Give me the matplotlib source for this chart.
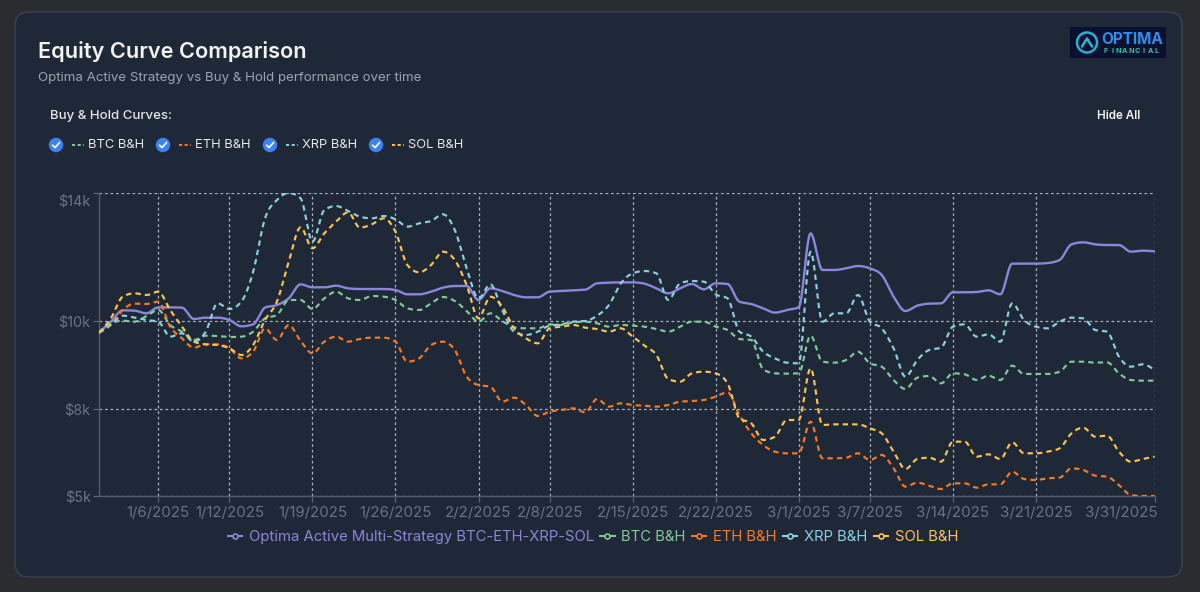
import numpy as np
import pandas as pd
import matplotlib
matplotlib.use("Agg")
import matplotlib.pyplot as plt
import matplotlib.transforms as mtransforms
from matplotlib.patches import FancyBboxPatch, Circle, Rectangle
from matplotlib.lines import Line2D

plt.rcParams['font.family'] = ['Inter', 'DejaVu Sans']

# ---------------- data ----------------
start_date = "2025-01-01"
end_date = "2025-03-31"
tick_dates = ["2025-01-06", "2025-01-12", "2025-01-19", "2025-01-26", "2025-02-02",
              "2025-02-08", "2025-02-15", "2025-02-22", "2025-03-01", "2025-03-07",
              "2025-03-14", "2025-03-21", "2025-03-31"]
y_tick_values = [5100, 7710, 10350, 14190]

optima = [10000, 10330, 10670, 10660, 10580, 10760, 10760, 10750, 10410, 10450,
          10450, 10380, 10190, 10250, 10750, 10830, 11030, 11450, 11360, 11360,
          11410, 11330, 11310, 11310, 11310, 11280, 11150, 11150, 11230, 11350,
          11400, 11400, 10980, 11330, 11250, 11130, 11060, 11060, 11230, 11250,
          11270, 11290, 11480, 11500, 11510, 11510, 11470, 11330, 11180, 11330,
          11460, 11300, 11480, 11460, 10930, 10860, 10730, 10600, 10680, 10760,
          12980, 11880, 11880, 11930, 12000, 11930, 11730, 11080, 10650, 10810,
          10870, 10880, 11210, 11210, 11220, 11270, 11150, 12070, 12070, 12070,
          12090, 12180, 12650, 12710, 12650, 12630, 12630, 12430, 12460, 12440]

btc = [10000, 10280, 10360, 10330, 10500, 10680, 10230, 10030, 9780, 9910,
       9900, 9870, 9880, 10030, 10430, 10530, 10980, 10980, 10710, 11030,
       11230, 11030, 10980, 11100, 11080, 10980, 10730, 10680, 10880, 11070,
       10950, 10650, 10330, 10580, 10350, 10160, 10130, 10130, 10250, 10230,
       10310, 10330, 10280, 10180, 10230, 10210, 10180, 10110, 10030, 10180,
       10330, 10330, 10180, 10080, 9810, 9780, 8900, 8780, 8770, 8780,
       9910, 9130, 9100, 9180, 9430, 9080, 8980, 8580, 8310, 8650,
       8700, 8480, 8780, 8750, 8580, 8710, 8580, 9010, 8760, 8760,
       8760, 8830, 9130, 9130, 9100, 9110, 8780, 8580, 8560, 8560]

eth = [10000, 10230, 10680, 10870, 10860, 10930, 10180, 9830, 9550, 9650,
       9650, 9530, 9230, 9430, 10130, 9780, 10230, 9750, 9380, 9730,
       9880, 9730, 9810, 9850, 9850, 9730, 9130, 9230, 9630, 9730,
       9480, 8680, 8430, 8380, 7930, 8050, 7830, 7500, 7630, 7680,
       7730, 7610, 8010, 7780, 7880, 7830, 7810, 7780, 7830, 7930,
       7950, 7980, 8080, 8210, 7530, 6980, 6630, 6430, 6380, 6380,
       7330, 6230, 6230, 6250, 6380, 6180, 6330, 5930, 5380, 5500,
       5410, 5310, 5480, 5480, 5350, 5450, 5450, 5830, 5610, 5580,
       5630, 5650, 5930, 5880, 5710, 5680, 5430, 5130, 5100, 5100]

xrp = [10000, 10250, 10510, 10450, 10380, 10330, 9880, 9980, 9730, 10030,
       10880, 10710, 10930, 11830, 13430, 13980, 14190, 14030, 12730, 13680,
       13800, 13650, 13480, 13430, 13500, 13400, 13180, 13280, 13350, 13550,
       13080, 11930, 11030, 11450, 10680, 10030, 9930, 10030, 10210, 10250,
       10330, 10350, 10510, 10830, 11480, 11780, 11850, 11780, 10980, 11480,
       11550, 11530, 11150, 11030, 10030, 9880, 9430, 9230, 9100, 9080,
       12430, 10330, 10580, 10580, 11130, 10330, 10130, 9530, 8680, 9180,
       9480, 9550, 10180, 10250, 9880, 9950, 9730, 10880, 10380, 10180,
       10130, 10330, 10450, 10430, 10080, 10030, 9280, 8980, 9050, 8880]

sol = [10000, 10430, 11080, 11180, 11130, 11230, 10680, 10180, 9730, 9650,
       9630, 9530, 9330, 9630, 10380, 10930, 12130, 13160, 12530, 12980,
       13330, 13610, 13150, 13250, 13430, 13030, 12030, 11810, 12030, 12430,
       12180, 11430, 10430, 11080, 10780, 10130, 9830, 9680, 10130, 10180,
       10230, 10150, 10110, 10030, 10130, 9880, 9610, 9330, 8610, 8530,
       8780, 8830, 8780, 8480, 7430, 7280, 6780, 6880, 7380, 7380,
       8930, 7230, 7250, 7250, 7250, 7130, 6980, 6430, 5910, 6210,
       6250, 6130, 6730, 6730, 6280, 6350, 6210, 6710, 6380, 6380,
       6430, 6530, 6980, 7150, 6880, 6910, 6430, 6130, 6210, 6280]

series_names = ["Optima Active Multi-Strategy BTC-ETH-XRP-SOL",
                "BTC B&H", "ETH B&H", "XRP B&H", "SOL B&H"]
series_values = [optima, btc, eth, xrp, sol]
series_colors = ["#8b86dc", "#82ca9d", "#f97a1f", "#8dd1e1", "#fcc451"]
series_dashed = [False, True, True, True, True]

# ---------------- helpers ----------------
def monotone_curve(x, y, n=14):
    """Monotone cubic (d3 curveMonotoneX style) rendering of a polyline."""
    x = np.asarray(x, float)
    y = np.asarray(y, float)
    h = np.diff(x)
    s = np.diff(y) / h
    m = np.zeros_like(y)
    for i in range(1, len(y) - 1):
        s0, s1 = s[i - 1], s[i]
        h0, h1 = h[i - 1], h[i]
        p = (s0 * h1 + s1 * h0) / (h0 + h1)
        m[i] = (np.sign(s0) + np.sign(s1)) * min(abs(s0), abs(s1), 0.5 * abs(p))
    m[0] = (3 * s[0] - m[1]) / 2
    m[-1] = (3 * s[-1] - m[-2]) / 2
    xs, ys = [], []
    t = np.linspace(0, 1, n, endpoint=False)
    h00 = 2 * t**3 - 3 * t**2 + 1
    h10 = t**3 - 2 * t**2 + t
    h01 = -2 * t**3 + 3 * t**2
    h11 = t**3 - t**2
    for i in range(len(h)):
        xs.append(x[i] + t * h[i])
        ys.append(h00 * y[i] + h10 * h[i] * m[i] + h01 * y[i + 1] + h11 * h[i] * m[i + 1])
    xs.append([x[-1]])
    ys.append([y[-1]])
    return np.concatenate(xs), np.concatenate(ys)

# ---------------- figure ----------------
W, H = 1200, 592
fig = plt.figure(figsize=(W / 100, H / 100), dpi=100)
fig.patch.set_facecolor("#2b2c2f")

bg = fig.add_axes([0, 0, 1, 1])
bg.set_xlim(0, W)
bg.set_ylim(H, 0)
bg.axis("off")

card_color = "#1f2836"
bg.add_patch(FancyBboxPatch((15, 12), 1167, 565,
                            boxstyle="round,pad=0,rounding_size=14",
                            fc=card_color, ec="#3b4452", lw=1.0))

# header
bg.text(38, 52, "Equity Curve Comparison", fontsize=15.6, fontweight="semibold",
        color="#f3f4f6", va="center", ha="left")
bg.text(38, 78, "Optima Active Strategy vs Buy & Hold performance over time",
        fontsize=9.6, color="#9ca3af", va="center", ha="left")
bg.text(50, 116, "Buy & Hold Curves:", fontsize=9.5, fontweight="medium",
        color="#e5e7eb", va="center", ha="left")
bg.text(1140, 116, "Hide All", fontsize=8.4, fontweight="semibold",
        color="#f3f4f6", va="center", ha="right")

# checkbox row
check_x = [56, 163, 270, 376]
for cx, name, col in zip(check_x, series_names[1:], series_colors[1:]):
    bg.add_patch(Circle((cx, 145), 7.2, fc="#3b82f6", ec="none"))
    bg.add_line(Line2D([cx - 3.4, cx - 0.9, cx + 3.6], [145.2, 147.6, 142.4],
                       color="white", lw=1.2, solid_capstyle="round"))
    bg.add_line(Line2D([cx + 16, cx + 28], [145, 145], color=col, lw=1.4,
                       ls=(0, (1.6, 1.3))))
    bg.text(cx + 32, 145, name, fontsize=9.3, color="#e5e7eb", va="center", ha="left")

# logo
bg.add_patch(Rectangle((1070, 27), 96, 31, fc="#0a1030", ec="none"))
bg.add_patch(Circle((1087, 42.5), 10, fc="none", ec="#27b0cf", lw=1.8))
bg.add_line(Line2D([1082, 1087, 1092], [46.5, 38.5, 46.5], color="#2bb8d0", lw=1.8,
                   solid_capstyle="round", solid_joinstyle="round"))
bg.text(1101, 39.5, "OPTIMA", fontsize=11, fontweight="bold", color="#2f8fe8",
        va="center", ha="left")
for k, ch in enumerate("FINANCIAL"):
    bg.text(1106 + k * 6.3, 51, ch, fontsize=5.2, fontweight="bold", color="#2fc7a0",
            va="center", ha="center")

# ---------------- main chart ----------------
dates = pd.date_range(start_date, end_date, freq="D")
x = np.arange(len(dates), dtype=float)

ax = fig.add_axes([99 / W, 1 - 496 / H, (1154.5 - 99) / W, (496 - 193) / H])
ax.patch.set_alpha(0)

all_vals = np.concatenate([np.asarray(v, float) for v in series_values])
ax.set_xlim(x[0], x[-1])
ax.set_ylim(all_vals.min(), all_vals.max())

grid_color = "#cfd4dc"
tick_pos = [(pd.Timestamp(d) - dates[0]).days for d in tick_dates]
ax.set_xticks(tick_pos)
ax.set_xticklabels([f"{pd.Timestamp(d).month}/{pd.Timestamp(d).day}/{pd.Timestamp(d).year}"
                    for d in tick_dates])
ax.set_yticks(y_tick_values)
ax.set_yticklabels([f"${v / 1000:.0f}k" for v in y_tick_values])

ax.grid(True, color=grid_color, ls=(0, (2.2, 2.2)), lw=0.9, alpha=0.8, zorder=0)
ax.set_axisbelow(True)
for side in ["top", "right"]:
    ax.spines[side].set_visible(False)
for side in ["left", "bottom"]:
    ax.spines[side].set_color("#535c69")
    ax.spines[side].set_linewidth(1.0)

ax.tick_params(axis="both", colors="#5d6572", labelcolor="#6b7280", labelsize=10.2,
               length=4.5, width=0.9)
ax.tick_params(axis="x", labelsize=10.8, pad=2.5)
ax.tick_params(axis="y", labelsize=10.4, pad=1.5)

for vals, col, dashed in zip(series_values, series_colors, series_dashed):
    xs, ys = monotone_curve(x, vals)
    if dashed:
        ax.plot(xs, ys, color=col, lw=1.55, ls=(0, (2.5, 1.9)), zorder=3)
    else:
        ax.plot(xs, ys, color=col, lw=1.7, zorder=3)

# nudge top y label down and keep the last x label inside the card, as in the reference
offset_y = mtransforms.ScaledTranslation(0, -7 / 100, fig.dpi_scale_trans)
ytick_objs = ax.yaxis.get_major_ticks()
ytick_objs[-1].label1.set_transform(ytick_objs[-1].label1.get_transform() + offset_y)
offset_x = mtransforms.ScaledTranslation(-33 / 100, 0, fig.dpi_scale_trans)
xtick_objs = ax.xaxis.get_major_ticks()
xtick_objs[-1].label1.set_transform(xtick_objs[-1].label1.get_transform() + offset_x)

# bottom legend
handles = [Line2D([], [], color=c, lw=1.5, marker="o", markersize=3.6,
                  markerfacecolor=card_color, markeredgecolor=c, markeredgewidth=1.2)
           for c in series_colors]
leg = fig.legend(handles, series_names, loc="center", bbox_to_anchor=(593 / W, 1 - 537 / H),
                 ncol=5, frameon=False, fontsize=10.7, handlelength=0.95,
                 handletextpad=0.45, columnspacing=0.45, numpoints=1,
                 labelcolor=series_colors)

fig.savefig("out.png", dpi=100, facecolor=fig.get_facecolor())
